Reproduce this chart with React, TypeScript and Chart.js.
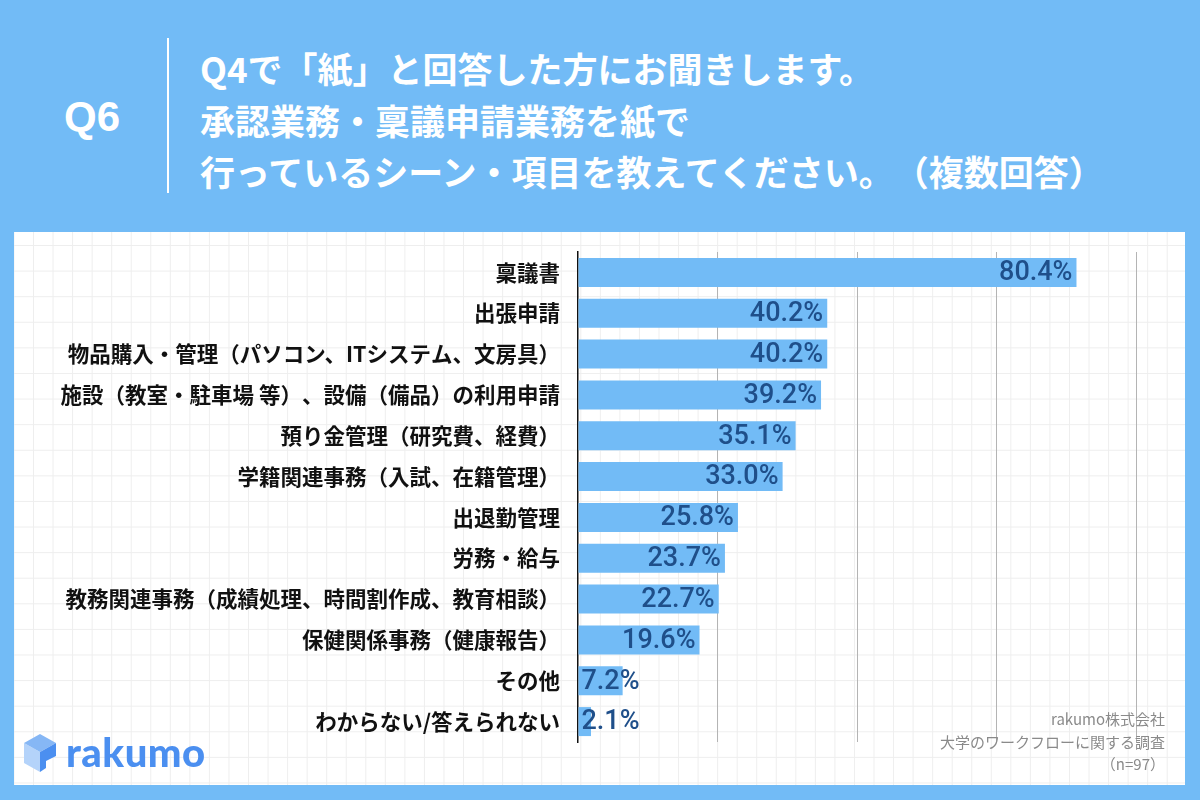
import React, { useEffect, useRef } from "react";
import { Chart, registerables } from "chart.js";

Chart.register(...registerables);

const categories = [
  "稟議書",
  "出張申請",
  "物品購入・管理（パソコン、ITシステム、文房具）",
  "施設（教室・駐車場 等）、設備（備品）の利用申請",
  "預り金管理（研究費、経費）",
  "学籍関連事務（入試、在籍管理）",
  "出退勤管理",
  "労務・給与",
  "教務関連事務（成績処理、時間割作成、教育相談）",
  "保健関係事務（健康報告）",
  "その他",
  "わからない/答えられない",
];
const values = [80.4, 40.2, 40.2, 39.2, 35.1, 33.0, 25.8, 23.7, 22.7, 19.6, 7.2, 2.1];
const gridTicks = [0, 22.5, 45, 67.5, 90];
const questionLabel = "Q6";
const titleLines = [
  "Q4で「紙」と回答した方にお聞きします。",
  "承認業務・稟議申請業務を紙で",
  "行っているシーン・項目を教えてください。（複数回答）",
];
const creditLines = ["rakumo株式会社", "大学のワークフローに関する調査", "（n=97）"];
const brandName = "rakumo";

const BLUE = "#72bbf6";
const JP = "'Noto Sans CJK JP', 'Noto Sans', sans-serif";

// keep full-width punctuation pairs from being trimmed by the browser's shaping
const untrim = (s: string) => s.replace(/([）」。、])([（「、。])/g, "$1\u200B$2");

const valueLabelPlugin = {
  id: "valueLabels",
  afterDatasetsDraw(chart: any) {
    const ctx = chart.ctx;
    const meta = chart.getDatasetMeta(0);
    ctx.save();
    ctx.font = "500 27px Roboto, 'Liberation Sans', Arial, sans-serif";
    ctx.fillStyle = "#1f4f8a";
    ctx.textBaseline = "middle";
    meta.data.forEach((bar: any, i: number) => {
      const text = values[i].toFixed(1) + "%";
      const w = ctx.measureText(text).width;
      const p = bar.getProps(["x", "y", "base"], true);
      if (p.x - p.base > w + 8) {
        ctx.textAlign = "right";
        ctx.fillText(text, p.x - 4, p.y + 1);
      } else {
        ctx.textAlign = "left";
        ctx.fillText(text, p.base + 3, p.y + 1);
      }
    });
    ctx.restore();
  },
};

function BarChart() {
  const ref = useRef<HTMLCanvasElement | null>(null);
  useEffect(() => {
    if (!ref.current) return;
    const chart = new Chart(ref.current, {
      type: "bar",
      data: {
        labels: categories,
        datasets: [
          {
            data: values,
            backgroundColor: BLUE,
            borderWidth: 0,
            barPercentage: 0.71,
            categoryPercentage: 1,
          },
        ],
      },
      options: {
        indexAxis: "y",
        animation: false,
        responsive: false,
        devicePixelRatio: 1,
        layout: { padding: { left: 0, right: 49, top: 20, bottom: 43 } },
        plugins: {
          legend: { display: false },
          tooltip: { enabled: false },
        },
        scales: {
          x: {
            min: 0,
            max: 90,
            afterBuildTicks: (s: any) => {
              s.ticks = gridTicks.map((v) => ({ value: v }));
            },
            afterFit: (s: any) => {
              s.height = 0;
              s.paddingLeft = 0;
              s.paddingRight = 0;
            },
            ticks: { display: false },
            border: { display: false },
            grid: {
              drawTicks: false,
              color: (c: any) => (c.tick && c.tick.value === 0 ? "rgba(0,0,0,0)" : "#b4b4b4"),
              lineWidth: 1,
            },
          },
          y: {
            z: 1,
            afterFit: (s: any) => {
              s.width = 564;
              s.paddingTop = 0;
              s.paddingBottom = 0;
            },
            grid: { display: false, drawTicks: false },
            border: { display: true, color: "#111", width: 1.5 },
            ticks: {
              autoSkip: false,
              padding: 18,
              color: "#111",
              font: { family: JP, size: 21.5, weight: "bold" },
              callback: (_v: any, i: number) => untrim(categories[i]),
            },
          },
        },
      },
      plugins: [valueLabelPlugin],
    } as any);
    return () => chart.destroy();
  }, []);
  return <canvas ref={ref} width={1171} height={553} style={{ position: "absolute", left: 0, top: 0 }} />;
}

export default function App() {
  return (
    <div
      style={{
        position: "fixed",
        left: 0,
        top: 0,
        width: 1200,
        height: 800,
        background: BLUE,
        overflow: "hidden",
        fontFamily: JP,
        ["textSpacingTrim" as any]: "space-all",
      }}
    >
      <div
        style={{
          position: "absolute",
          left: 38,
          top: 92,
          width: 108,
          textAlign: "center",
          color: "#fff",
          fontFamily: "'Liberation Sans', Arial, sans-serif",
          fontWeight: "bold",
          fontSize: 42,
          lineHeight: "50px",
        }}
      >
        {questionLabel}
      </div>
      <div style={{ position: "absolute", left: 167, top: 38, width: 1.5, height: 155, background: "#fff" }} />
      {titleLines.map((t, i) => (
        <div
          key={i}
          style={{
            position: "absolute",
            left: 200,
            top: 42 + i * 51.5,
            color: "#fff",
            fontWeight: "bold",
            fontSize: 35,
            lineHeight: "52px",
            whiteSpace: "nowrap",
            ["textSpacingTrim" as any]: "space-all",
          }}
        >
          {t}
        </div>
      ))}
      <div
        style={{
          position: "absolute",
          left: 14,
          top: 232,
          width: 1171,
          height: 553,
          backgroundColor: "#fff",
          backgroundImage:
            "linear-gradient(to right, #eeeeee 1px, transparent 1px), linear-gradient(to bottom, #eeeeee 1px, transparent 1px)",
          backgroundSize: "19.55px 25.6px",
          backgroundPosition: "19px 13px",
        }}
      >
        <BarChart />
        <div
          style={{
            position: "absolute",
            right: 20,
            top: 476,
            textAlign: "right",
            color: "#8a8a8a",
            fontSize: 15,
            lineHeight: "22.5px",
          }}
        >
          {creditLines.map((c, i) => (
            <div key={i}>{c}</div>
          ))}
        </div>
        <svg width="32" height="38" viewBox="0 0 32 38" style={{ position: "absolute", left: 10, top: 502 }}>
          <polygon points="0,9 16,18 16,38 0,29" fill="#b4d3fa" />
          <polygon points="0,9 16,0 32,9 16,18" fill="#86b7f5" />
          <polygon points="16,18 32,9 32,22 22,27 22,34 16,38" fill="#4b8ff0" />
        </svg>
        <div
          style={{
            position: "absolute",
            left: 52,
            top: 496,
            color: "#4b8ff0",
            fontFamily: "Lato, 'Noto Sans', sans-serif",
            fontWeight: 900,
            fontSize: 40,
            lineHeight: "48px",
            letterSpacing: 0.5,
          }}
        >
          {brandName}
        </div>
      </div>
    </div>
  );
}
